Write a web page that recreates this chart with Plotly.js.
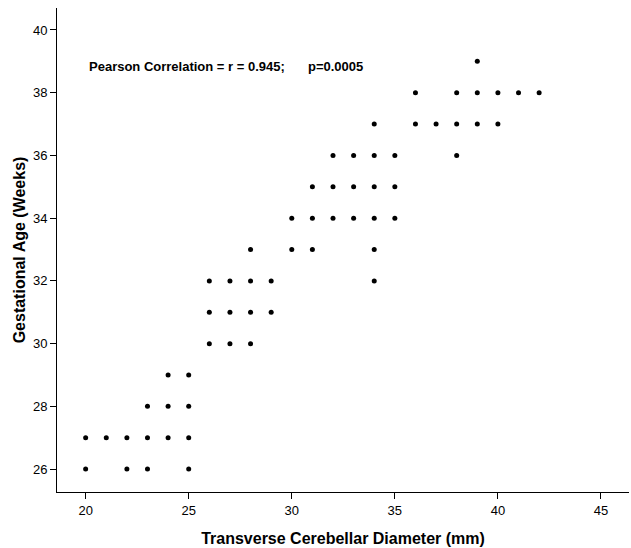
<!DOCTYPE html>
<html>
<head>
<meta charset="utf-8">
<script src="https://cdn.plot.ly/plotly-3.0.1.min.js"></script>
<style>html,body{margin:0;padding:0;background:#fff;}#chart{width:631px;height:548px;}</style>
</head>
<body>
<div id="chart"></div>
<script>
// Transverse cerebellar diameter (mm) for each point
const tcdValues = [
  20,22,23,25,
  20,21,22,23,24,25,
  23,24,25,
  24,25,
  26,27,28,
  26,27,28,29,
  26,27,28,29,34,
  28,30,31,34,
  30,31,32,33,34,35,
  31,32,33,34,35,
  32,33,34,35,38,
  34,36,37,38,39,40,
  36,38,39,40,41,42,
  39
];
// Gestational age (weeks) for each point
const gaValues = [
  26,26,26,26,
  27,27,27,27,27,27,
  28,28,28,
  29,29,
  30,30,30,
  31,31,31,31,
  32,32,32,32,32,
  33,33,33,33,
  34,34,34,34,34,34,
  35,35,35,35,35,
  36,36,36,36,36,
  37,37,37,37,37,37,
  38,38,38,38,38,38,
  39
];
const xTicks = [20,25,30,35,40,45];
const yTicks = [26,28,30,32,34,36,38,40];
const xTitle = "Transverse Cerebellar Diameter (mm)";
const yTitle = "Gestational Age (Weeks)";
const statText = "Pearson Correlation = r = 0.945;";
const pText = "p=0.0005";

const font = "Liberation Sans, Arial, sans-serif";

const trace = {
  type: "scatter",
  mode: "markers",
  x: tcdValues,
  y: gaValues,
  marker: {color: "#000000", size: 5, line: {width: 0}},
  hoverinfo: "x+y",
  showlegend: false
};

const layout = {
  width: 631,
  height: 548,
  margin: {l: 57, r: 2, t: 8, b: 56, pad: 0},
  paper_bgcolor: "#ffffff",
  plot_bgcolor: "#ffffff",
  font: {family: font, color: "#000000", size: 13},
  xaxis: {
    range: [18.61, 46.36],
    tickvals: xTicks,
    ticktext: xTicks.map(String),
    ticks: "outside",
    ticklen: 6,
    tickwidth: 1,
    tickcolor: "#000",
    showline: true,
    linecolor: "#000",
    linewidth: 1,
    showgrid: false,
    zeroline: false,
    tickfont: {family: font, size: 13, color: "#000"},
    title: {text: "<b>" + xTitle + "</b>", font: {family: font, size: 16, color: "#000"}, standoff: 16}
  },
  yaxis: {
    range: [25.27, 40.7],
    tickvals: yTicks,
    ticktext: yTicks.map(String),
    ticks: "outside",
    ticklen: 6,
    tickwidth: 1,
    tickcolor: "#000",
    showline: true,
    linecolor: "#000",
    linewidth: 1,
    showgrid: false,
    zeroline: false,
    tickfont: {family: font, size: 13, color: "#000"},
    title: {text: "<b>" + yTitle + "</b>", font: {family: font, size: 16, color: "#000"}, standoff: 3}
  },
  annotations: [
    {x: 20.05, y: 38.82, xref: "x", yref: "y", xanchor: "left", yanchor: "middle",
     text: "<b>" + statText + "</b>", showarrow: false, font: {family: font, size: 13, color: "#000"}},
    {x: 30.7, y: 38.82, xref: "x", yref: "y", xanchor: "left", yanchor: "middle",
     text: "<b>" + pText + "</b>", showarrow: false, font: {family: font, size: 13, color: "#000"}}
  ]
};

Plotly.newPlot("chart", [trace], layout, {displayModeBar: false, staticPlot: true});
</script>
</body>
</html>
